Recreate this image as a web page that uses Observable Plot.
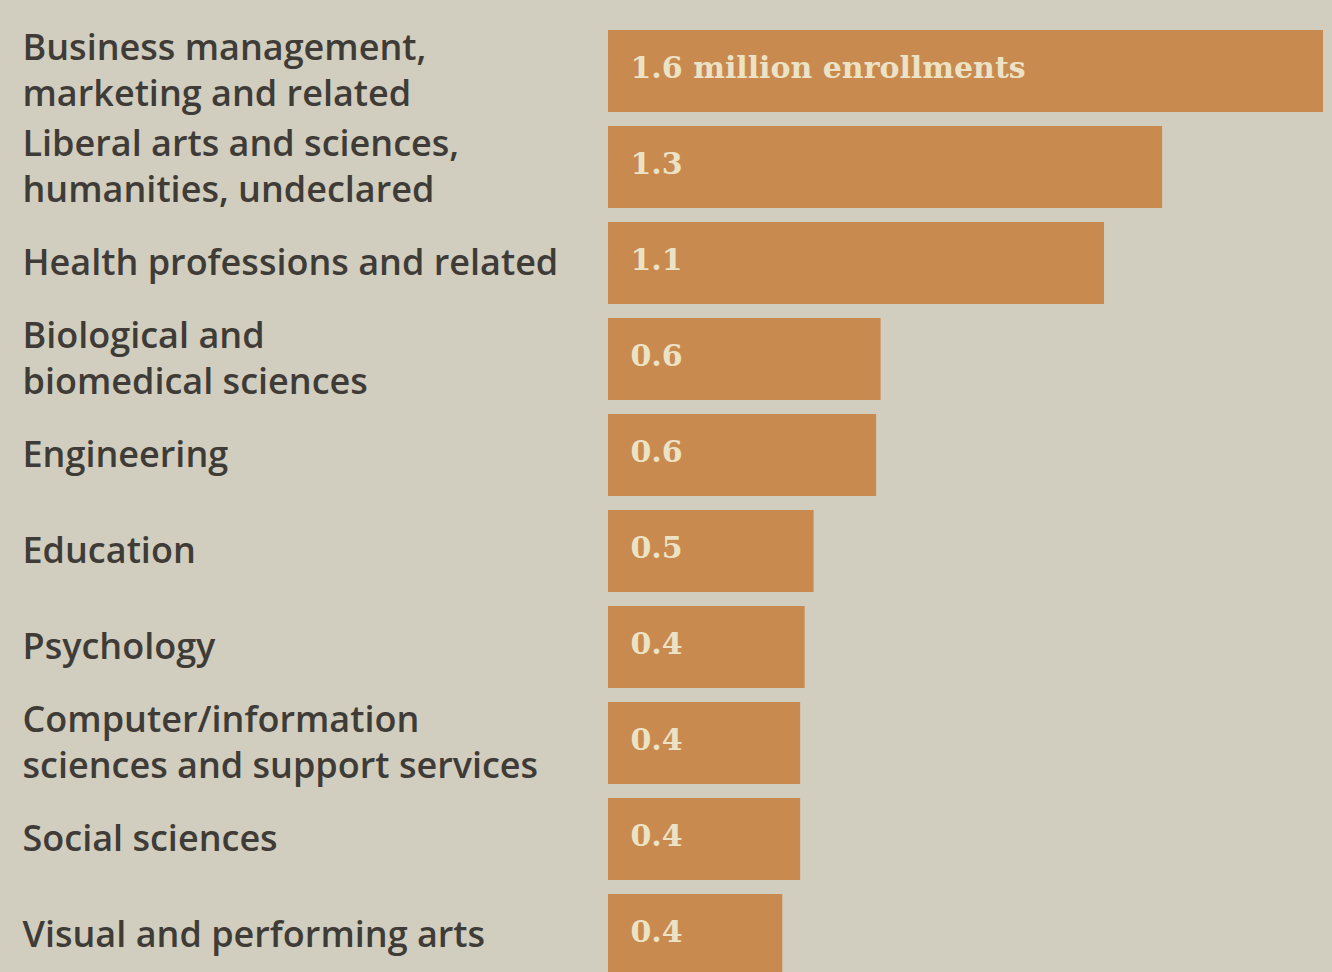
<!DOCTYPE html>
<html>
<head>
<meta charset="utf-8">
<script src="https://cdn.jsdelivr.net/npm/d3@7"></script>
<script src="https://cdn.jsdelivr.net/npm/@observablehq/plot@0.6"></script>
<style>
  html, body { margin: 0; padding: 0; background: #d2cebf; overflow: hidden; }
  #chart svg { display: block; }
</style>
</head>
<body>
<div id="chart"></div>
<script>
const categories = [
  "Business management,\nmarketing and related",
  "Liberal arts and sciences,\nhumanities, undeclared",
  "Health professions and related",
  "Biological and\nbiomedical sciences",
  "Engineering",
  "Education",
  "Psychology",
  "Computer/information\nsciences and support services",
  "Social sciences",
  "Visual and performing arts"
];
// enrollments, millions (bar lengths)
const values = [1.6, 1.24, 1.11, 0.61, 0.6, 0.46, 0.44, 0.43, 0.43, 0.39];
const valueLabels = ["1.6 million enrollments", "1.3", "1.1", "0.6", "0.6", "0.5", "0.4", "0.4", "0.4", "0.4"];

const data = categories.map((c, i) => ({category: c, value: values[i], label: valueLabels[i]}));

const chart = Plot.plot({
  width: 1332,
  height: 972,
  marginLeft: 608,
  marginRight: 9,
  marginTop: 29,
  marginBottom: -5,
  style: {background: "#d2cebf", fontFamily: "'Open Sans', sans-serif"},
  x: {domain: [0, 1.6], axis: null},
  y: {domain: categories, axis: null, paddingInner: 0.146, paddingOuter: 0},
  marks: [
    Plot.barX(data, {x: "value", y: "category", fill: "#c98a4f"}),
    Plot.text(data, {
      y: "category", text: "category", frameAnchor: "left", textAnchor: "start",
      dx: -586, fontSize: 36, fontWeight: 600, lineHeight: 1.27, fill: "#3f3c37", dy: -3
    }),
    Plot.text(data, {
      x: 0, y: "category", text: "label", textAnchor: "start",
      dx: 22, dy: -3, fontSize: 30, fontWeight: "bold", fill: "#ece2c6",
      fontFamily: "DejaVu Serif, serif"
    })
  ]
});
document.getElementById("chart").appendChild(chart);
</script>
</body>
</html>
